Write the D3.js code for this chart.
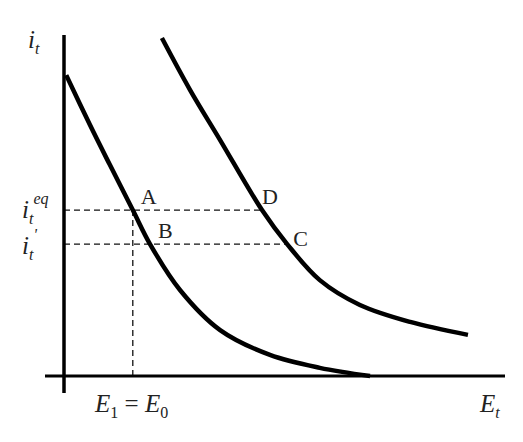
<!DOCTYPE html>
<html><head><meta charset="utf-8">
<script src="https://cdn.jsdelivr.net/npm/d3@7"></script>
<style>body{margin:0;background:#fff}text{font-family:"Liberation Serif","DejaVu Serif",serif;fill:#222}</style>
</head><body><svg id="c" width="523" height="442"></svg>
<script>
// demand curves (E, i) in abstract units
const curveLow = [[0.05,8.85],[0.59,7.38],[1.04,6.21],[1.56,4.88],[1.95,3.88],[2.63,2.53],[3.54,1.35],[4.67,0.62],[5.8,0.24],[6.94,0]];
const curveHigh = [[2.22,9.94],[2.86,8.41],[3.54,6.94],[4.49,4.88],[5.06,3.88],[5.8,2.82],[6.71,2.09],[7.85,1.59],[9.16,1.21]];
const iEq = 4.88, iPrime = 3.88, E1 = 1.56, xD = 4.49, xC = 5.06;
const points = [["A",1.56,4.88,8,-6],["B",1.95,3.88,8,-6],["D",4.49,4.88,0,-6],["C",5.06,3.88,6,2]];

const svg = d3.select("#c");
const x = d3.scaleLinear().domain([0,10]).range([64,505]);
const y = d3.scaleLinear().domain([0,10]).range([376,36]);

const dash = (x1,y1,x2,y2) => svg.append("line").attr("x1",x(x1)).attr("y1",y(y1)).attr("x2",x(x2)).attr("y2",y(y2))
  .attr("stroke","#111").attr("stroke-width",1.3).attr("stroke-dasharray","6,4");
dash(0,iEq,xD,iEq); dash(0,iPrime,xC,iPrime); dash(E1,iEq,E1,0);

// axes
svg.append("line").attr("x1",x(0)).attr("x2",x(0)).attr("y1",35).attr("y2",393).attr("stroke","#000").attr("stroke-width",3.5);
svg.append("line").attr("x1",45).attr("x2",x(10)).attr("y1",y(0)).attr("y2",y(0)).attr("stroke","#000").attr("stroke-width",3);

const line = d3.line().x(d=>x(d[0])).y(d=>y(d[1])).curve(d3.curveCatmullRom);
[curveLow, curveHigh].forEach(c => svg.append("path").attr("d",line(c)).attr("fill","none").attr("stroke","#000").attr("stroke-width",4.5));

points.forEach(([t,a,b,dx,dy]) => svg.append("text").attr("x",x(a)+dx).attr("y",y(b)+dy).attr("font-size",22).text(t));

function lab(xp,yp,main,sub,sup){
  const t = svg.append("text").attr("x",xp).attr("y",yp).attr("font-size",25).attr("font-style","italic");
  t.append("tspan").text(main);
  t.append("tspan").attr("font-size",16).attr("dy",6).text(sub);
  if (sup) t.append("tspan").attr("font-size",16).attr("dx",0).attr("dy",-20).text(sup);
  return t;
}
lab(28,48,"i","t");
lab(22,218,"i","t","eq");
lab(22,254,"i","t","'");
const e = svg.append("text").attr("x",95).attr("y",412).attr("font-size",25).attr("font-style","italic");
e.append("tspan").text("E");
e.append("tspan").attr("font-size",16).attr("dy",6).attr("font-style","normal").text("1");
e.append("tspan").attr("dy",-6).attr("font-style","normal").text(" = ");
e.append("tspan").text("E");
e.append("tspan").attr("font-size",16).attr("dy",6).attr("font-style","normal").text("0");
lab(480,412,"E","t");
</script></body></html>
